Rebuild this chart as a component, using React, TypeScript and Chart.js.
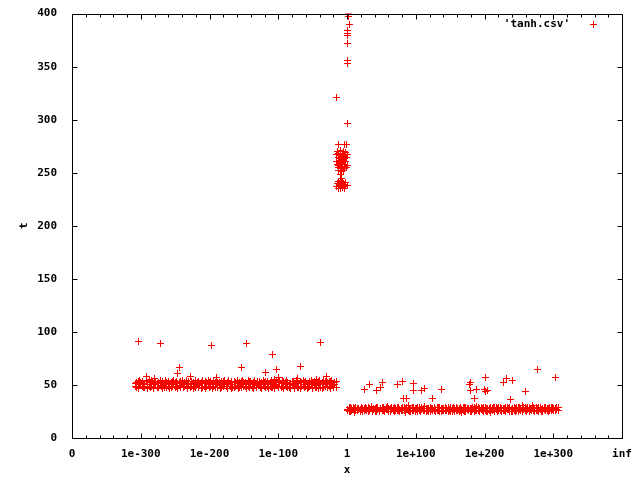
import React, { useEffect, useRef } from 'react';
import { Chart, registerables } from 'chart.js';

Chart.register(...registerables);

// x axis is an ordinal "magnitude" axis: 0 .. 8 maps to the labels below
const xTickLabels = ['0', '1e-300', '1e-200', '1e-100', '1', '1e+100', '1e+200', '1e+300', 'inf'];
const yTickValues = [0, 50, 100, 150, 200, 250, 300, 350, 400];
const seriesName = "'tanh.csv'";

// dense band, small inputs (t ~ 50); two samples per x position
const leftBandX = [
  0.92, 0.94, 0.96, 0.98, 1.00, 1.02, 1.04, 1.06, 1.08, 1.10,
  1.12, 1.14, 1.16, 1.18, 1.20, 1.22, 1.24, 1.26, 1.28, 1.30,
  1.32, 1.34, 1.36, 1.38, 1.40, 1.42, 1.44, 1.46, 1.48, 1.50,
  1.52, 1.54, 1.56, 1.58, 1.60, 1.62, 1.64, 1.66, 1.68, 1.70,
  1.72, 1.74, 1.76, 1.78, 1.80, 1.82, 1.84, 1.86, 1.88, 1.90,
  1.92, 1.94, 1.96, 1.98, 2.00, 2.02, 2.04, 2.06, 2.08, 2.10,
  2.12, 2.14, 2.16, 2.18, 2.20, 2.22, 2.24, 2.26, 2.28, 2.30,
  2.32, 2.34, 2.36, 2.38, 2.40, 2.42, 2.44, 2.46, 2.48, 2.50,
  2.52, 2.54, 2.56, 2.58, 2.60, 2.62, 2.64, 2.66, 2.68, 2.70,
  2.72, 2.74, 2.76, 2.78, 2.80, 2.82, 2.84, 2.86, 2.88, 2.90,
  2.92, 2.94, 2.96, 2.98, 3.00, 3.02, 3.04, 3.06, 3.08, 3.10,
  3.12, 3.14, 3.16, 3.18, 3.20, 3.22, 3.24, 3.26, 3.28, 3.30,
  3.32, 3.34, 3.36, 3.38, 3.40, 3.42, 3.44, 3.46, 3.48, 3.50,
  3.52, 3.54, 3.56, 3.58, 3.60, 3.62, 3.64, 3.66, 3.68, 3.70,
  3.72, 3.74, 3.76, 3.78, 3.80, 3.82, 3.84,
];
const leftBandY = [
  51, 48, 53, 50, 52, 49, 51.5, 47.5, 53, 50.5,
  49, 52.5, 48.5, 51, 53.5, 50, 48, 52, 49.5, 51,
  53, 47.5, 50.5, 52, 49, 51.5, 48, 53, 50, 52.5,
  48.5, 51, 49.5, 53.5, 50, 47.5, 52, 51, 48, 53,
  50.5, 49, 52.5, 51.5, 48, 50, 53, 49.5, 52, 47.5,
  51, 53.5, 48.5, 50, 52, 49, 51.5, 53, 48, 50.5,
  52.5, 49.5, 51, 47.5, 53, 50, 48.5, 52, 51, 49,
  53.5, 50.5, 48, 52.5, 49.5, 51, 47.5, 53, 50, 52,
  48.5, 51.5, 49, 53, 50.5, 48, 52, 51, 49.5, 53.5,
  50, 47.5, 52.5, 51, 48.5, 53, 49, 50.5, 52, 48,
  51.5, 53, 49.5, 50, 47.5, 52, 51, 48.5, 53.5, 50.5,
  49, 52.5, 48, 51, 53, 50, 49.5, 52, 47.5, 51.5,
  53, 48.5, 50.5, 52, 49, 51, 48, 53.5, 50, 52.5,
  49.5, 51, 47.5, 53, 50.5, 48, 52, 51.5, 49, 50,
  52, 48.5, 53, 51, 49.5, 50.5, 48,
];
const leftBandY2 = [
  49, 52, 47, 54, 50, 53, 48, 51, 54, 47,
  52, 48, 54, 47, 50, 53, 51, 48, 54, 49,
  47, 50, 54, 48, 53, 47, 52, 49, 54, 48,
  53, 47, 52, 48, 54, 51, 49, 54, 47, 50,
  48, 53, 47, 49, 54, 52, 48, 51, 47, 54,
  49, 47, 52, 54, 48, 53, 47, 49, 52, 54,
  48, 52, 47, 53, 49, 54, 51, 47, 54, 50,
  47, 48, 53, 49, 54, 47, 52, 48, 54, 49,
  52, 47, 54, 48, 53, 50, 47, 54, 48, 51,
  53, 49, 47, 54, 52, 48, 53, 47, 49, 54,
  48, 47, 52, 54, 49, 53, 48, 54, 47, 52,
  54, 48, 51, 47, 50, 53, 47, 54, 49, 48,
  47, 52, 54, 48, 53, 47, 51, 49, 54, 47,
  53, 48, 52, 47, 54, 50, 47, 48, 53, 54,
  48, 53, 47, 54, 48, 52, 53,
];
const leftBandBumps: [number, number][] = [
  [1.12, 55], [1.20, 56], [2.95, 55], [3.00, 57], [3.28, 56], [3.55, 55], [3.66, 54.5],
];

// dense band, large inputs (t ~ 27); two samples per x position
const rightBandX = [
  4.01, 4.03, 4.05, 4.07, 4.09, 4.11, 4.13, 4.15, 4.17, 4.19,
  4.21, 4.23, 4.25, 4.27, 4.29, 4.31, 4.33, 4.35, 4.37, 4.39,
  4.41, 4.43, 4.45, 4.47, 4.49, 4.51, 4.53, 4.55, 4.57, 4.59,
  4.61, 4.63, 4.65, 4.67, 4.69, 4.71, 4.73, 4.75, 4.77, 4.79,
  4.81, 4.83, 4.85, 4.87, 4.89, 4.91, 4.93, 4.95, 4.97, 4.99,
  5.01, 5.03, 5.05, 5.07, 5.09, 5.11, 5.13, 5.15, 5.17, 5.19,
  5.21, 5.23, 5.25, 5.27, 5.29, 5.31, 5.33, 5.35, 5.37, 5.39,
  5.41, 5.43, 5.45, 5.47, 5.49, 5.51, 5.53, 5.55, 5.57, 5.59,
  5.61, 5.63, 5.65, 5.67, 5.69, 5.71, 5.73, 5.75, 5.77, 5.79,
  5.81, 5.83, 5.85, 5.87, 5.89, 5.91, 5.93, 5.95, 5.97, 5.99,
  6.01, 6.03, 6.05, 6.07, 6.09, 6.11, 6.13, 6.15, 6.17, 6.19,
  6.21, 6.23, 6.25, 6.27, 6.29, 6.31, 6.33, 6.35, 6.37, 6.39,
  6.41, 6.43, 6.45, 6.47, 6.49, 6.51, 6.53, 6.55, 6.57, 6.59,
  6.61, 6.63, 6.65, 6.67, 6.69, 6.71, 6.73, 6.75, 6.77, 6.79,
  6.81, 6.83, 6.85, 6.87, 6.89, 6.91, 6.93, 6.95, 6.97, 6.99,
  7.01, 7.03, 7.05, 7.07,
];
const rightBandY = [
  27, 25, 28.5, 26, 29, 27.5, 25.5, 28, 26.5, 27,
  29, 25, 28, 26.5, 27.5, 29, 25.5, 28.5, 26, 27,
  28, 25, 29, 26, 27.5, 28.5, 25.5, 26.5, 29, 27,
  25, 28, 26.5, 27.5, 29, 25.5, 28.5, 26, 27, 28,
  25.5, 29, 26.5, 27, 28.5, 25, 27.5, 26, 29, 28,
  26.5, 25, 28.5, 27, 29, 25.5, 26, 28, 27.5, 25,
  29, 26.5, 28, 25.5, 27, 28.5, 26, 29, 25, 27.5,
  28, 26, 25.5, 29, 27, 28.5, 25, 26.5, 27.5, 29,
  25.5, 28, 26, 27, 28.5, 25, 29, 26.5, 27.5, 28,
  25, 27, 29, 26, 28.5, 25.5, 27.5, 26.5, 28, 29,
  26, 25, 28, 27.5, 29, 25.5, 26.5, 28.5, 27, 25,
  29, 26, 27.5, 28, 25.5, 28.5, 26.5, 27, 29, 25,
  27.5, 28.5, 25, 26, 29, 27, 25.5, 28, 26.5, 28.5,
  25, 27, 29, 26.5, 28, 25.5, 27.5, 29, 26, 28.5,
  27, 25, 28, 26.5, 29, 25.5, 27.5, 28.5, 26, 27,
  28, 25.5, 27, 28.5,
];
const rightBandY2 = [
  26, 29, 25, 28, 27, 24.5, 29, 26, 28, 25,
  27, 28, 25.5, 29, 26, 25, 28, 29.5, 25, 28,
  25, 29, 27, 25, 28, 26, 29, 25, 27, 29.5,
  28, 25, 29, 26, 25, 28, 26, 29, 25, 26,
  29, 26, 24.5, 29, 26, 28, 25, 29, 26, 25,
  28, 29, 26, 25, 27, 28, 29.5, 25, 26, 28,
  25, 28, 26, 29, 25, 26, 29, 25, 28, 26,
  26, 29, 28, 25, 26, 25, 28, 29, 25, 26,
  28, 25, 29, 24.5, 26, 29, 25, 28, 26, 25,
  28, 29, 25, 28, 26, 29, 25, 29, 26, 25,
  29, 28, 25, 26, 24.5, 28, 29, 25, 29, 28,
  26, 29, 25, 26, 28, 25, 29, 28, 25, 27,
  25, 26, 28, 29, 25, 29, 28, 25, 29, 26,
  28, 29, 25, 28, 26, 29, 25, 26, 28, 25,
  29, 27, 25, 29, 26, 28, 25, 26, 29, 28.5,
  26, 28, 29, 26,
];
const rightBandBumps: [number, number][] = [
  [4.90, 31], [5.88, 30], [6.55, 31], [6.70, 30.5],
];

// cluster near 1 (t ~ 235-280)
const nearOneCluster: [number, number][] = [
  [3.87, 277], [3.96, 277], [3.99, 277],
  [3.86, 270], [3.90, 271], [3.95, 270], [3.98, 269],
  [3.85, 267], [3.88, 268], [3.91, 266], [3.94, 267.5], [3.97, 266], [4.00, 267],
  [3.87, 264], [3.90, 263], [3.93, 265], [3.96, 263.5], [3.99, 264],
  [3.85, 261], [3.89, 261.5], [3.92, 260], [3.95, 261], [3.98, 260.5],
  [3.86, 258], [3.88, 257], [3.91, 258.5], [3.94, 257.5], [3.97, 258], [4.00, 257],
  [3.87, 255], [3.90, 254], [3.93, 255.5], [3.96, 254], [3.99, 255],
  [3.88, 252], [3.92, 251], [3.95, 252.5],
  [3.90, 248], [3.92, 245],
  [3.87, 242], [3.90, 242.5], [3.94, 242],
  [3.86, 240], [3.89, 239.5], [3.92, 240], [3.95, 239], [3.98, 240.5],
  [3.85, 237.5], [3.88, 237], [3.91, 238], [3.94, 236.5], [3.97, 237.5], [4.00, 238],
  [3.87, 235.5], [3.90, 235], [3.93, 236], [3.96, 235.5],
];

// tall spikes near 1
const nearOneSpikes: [number, number][] = [
  [4.02, 400], [4.02, 397], [4.03, 390], [4.00, 384], [4.00, 381], [4.01, 379],
  [4.00, 372], [4.00, 356], [4.00, 353], [3.85, 321], [4.00, 296],
];

const leftOutliers: [number, number][] = [
  [0.96, 91], [1.28, 89], [1.56, 66], [1.54, 61], [1.73, 58], [1.09, 58], [2.03, 87], [2.10, 57],
  [2.54, 89], [2.46, 66.5], [2.81, 62], [2.91, 79], [2.98, 65], [3.61, 90], [3.32, 67], [3.70, 57.5],
];

const rightOutliers: [number, number][] = [
  [4.25, 46], [4.33, 50], [4.43, 45], [4.48, 47.5], [4.52, 52], [4.74, 50], [4.80, 53.5], [4.82, 37],
  [4.87, 37], [4.97, 51.5], [4.97, 44.5], [5.09, 45], [5.13, 47], [5.25, 37.5], [5.38, 46], [5.78, 50],
  [5.80, 52], [5.80, 45], [5.85, 37.5], [5.89, 46], [6.00, 46], [6.02, 57], [6.02, 43.5], [6.05, 44.5],
  [6.28, 52.5], [6.32, 56], [6.40, 54.5], [6.38, 36], [6.60, 44], [6.77, 65], [7.03, 57],
];

const RED = '#ff0000';
const FONT = { family: '"DejaVu Sans Mono", monospace', size: 11, weight: 'bold' as const };

function makeCrossImage(): HTMLCanvasElement {
  const c = document.createElement('canvas');
  c.width = 7;
  c.height = 7;
  const g = c.getContext('2d')!;
  g.fillStyle = RED;
  g.fillRect(0, 3, 7, 1);
  g.fillRect(3, 0, 1, 7);
  return c;
}

const crispPlugin = {
  id: 'crispPoints',
  beforeDatasetsDraw(chart: any) {
    chart.ctx.save();
    chart.ctx.imageSmoothingEnabled = false;
  },
  afterDatasetsDraw(chart: any) {
    chart.ctx.restore();
  },
};

const framePlugin = {
  id: 'gnuplotFrame',
  afterDraw(chart: any) {
    const { ctx, chartArea } = chart;
    const { left, right, top, bottom } = chartArea;
    const xs = chart.scales.x;
    const ys = chart.scales.y;
    ctx.save();
    ctx.strokeStyle = '#000';
    ctx.lineWidth = 1;
    ctx.beginPath();
    const L = Math.round(left) + 0.5, R = Math.round(right) + 0.5;
    const T = Math.round(top) + 0.5, B = Math.round(bottom) + 0.5;
    ctx.rect(L, T, R - L, B - T);
    for (let i = 0; i <= 40; i++) {
      const v = i / 5;
      const px = Math.round(xs.getPixelForValue(v)) + 0.5;
      const len = i % 5 === 0 ? 5 : 3;
      ctx.moveTo(px, B);
      ctx.lineTo(px, B - len);
      ctx.moveTo(px, T);
      ctx.lineTo(px, T + len);
    }
    for (const v of yTickValues) {
      const py = Math.round(ys.getPixelForValue(v)) + 0.5;
      ctx.moveTo(L, py);
      ctx.lineTo(L + 5, py);
      ctx.moveTo(R, py);
      ctx.lineTo(R - 5, py);
    }
    ctx.stroke();

    // legend
    ctx.font = `bold 11px "DejaVu Sans Mono", monospace`;
    ctx.fillStyle = '#000';
    ctx.textAlign = 'right';
    ctx.textBaseline = 'middle';
    ctx.fillText(seriesName, 570, 24);
    ctx.fillStyle = RED;
    ctx.fillRect(590, 24, 7, 1);
    ctx.fillRect(593, 21, 1, 7);
    ctx.restore();
  },
};

export default function App() {
  const ref = useRef<HTMLCanvasElement | null>(null);

  useEffect(() => {
    if (!ref.current) return;
    const pair = (xs: number[], ys: number[]) => xs.map((x, i) => [x, ys[i]] as [number, number]);
    const allPoints = [
      ...pair(leftBandX, leftBandY), ...pair(leftBandX, leftBandY2), ...leftBandBumps,
      ...pair(rightBandX, rightBandY), ...pair(rightBandX, rightBandY2), ...rightBandBumps,
      ...nearOneCluster, ...nearOneSpikes, ...leftOutliers, ...rightOutliers,
    ].map(([x, y]) => ({ x, y }));

    const cross = makeCrossImage();

    const chart = new Chart(ref.current, {
      type: 'scatter',
      data: {
        datasets: [
          {
            label: seriesName,
            data: allPoints,
            pointStyle: cross as any,
            pointRadius: 3.5,
            pointBorderWidth: 1,
            borderColor: RED,
            backgroundColor: RED,
            pointHoverRadius: 3.5,
          },
        ],
      },
      options: {
        animation: false,
        responsive: false,
        devicePixelRatio: 1,
        layout: { padding: { top: 13, right: 18, left: 0, bottom: 0 } },
        plugins: { legend: { display: false }, tooltip: { enabled: false } },
        scales: {
          x: {
            type: 'linear',
            min: 0,
            max: 8,
            grid: { display: false },
            border: { display: false },
            ticks: {
              stepSize: 1,
              autoSkip: false,
              maxRotation: 0,
              padding: 2,
              color: '#000',
              font: FONT,
              callback: (v: any) => (Number.isInteger(v) ? xTickLabels[v] ?? '' : ''),
            },
            title: { display: true, text: 'x', color: '#000', font: FONT, padding: { top: 0, bottom: 3 } },
            afterFit: (s: any) => {
              s.height = 42;
            },
          },
          y: {
            type: 'linear',
            min: 0,
            max: 400,
            grid: { display: false },
            border: { display: false },
            ticks: { stepSize: 50, padding: 7, color: '#000', font: FONT },
            title: { display: true, text: 't', color: '#000', font: FONT, padding: { top: 18, bottom: 0 } },
            afterFit: (s: any) => {
              s.width = 72;
            },
          },
        },
      },
      plugins: [crispPlugin, framePlugin],
    });
    return () => chart.destroy();
  }, []);

  return (
    <div style={{ position: 'absolute', left: 0, top: 0, width: 640, height: 480, background: '#fff' }}>
      <canvas ref={ref} width={640} height={480} />
    </div>
  );
}
